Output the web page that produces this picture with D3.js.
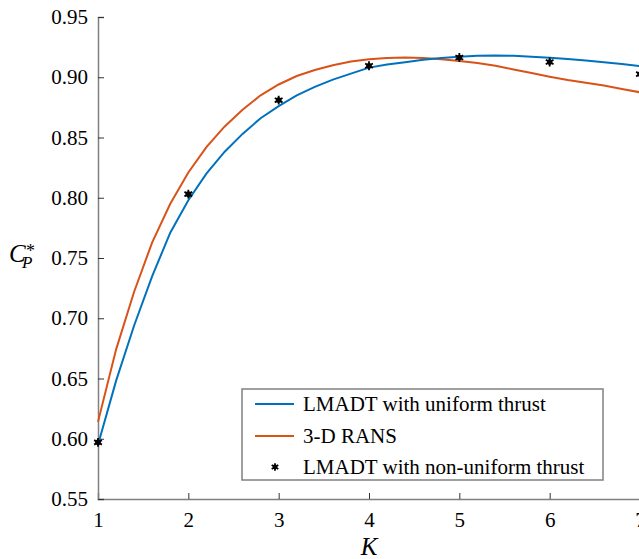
<!DOCTYPE html>
<html><head><meta charset="utf-8">
<script src="https://cdn.jsdelivr.net/npm/d3@7"></script>
</head><body style="margin:0">
<svg id="c" width="639" height="559" style="display:block;background:#fff"></svg>
<script>
const kLine = [1.0,1.2,1.4,1.6,1.8,2.0,2.2,2.4,2.6,2.8,3.0,3.2,3.4,3.6,3.8,4.0,4.2,4.4,4.6,4.8,5.0,5.2,5.4,5.6,5.8,6.0,6.2,6.4,6.6,6.8,7.0];
const uniform = [0.595,0.648,0.694,0.735,0.771,0.798,0.820,0.838,0.853,0.866,0.876,0.885,0.892,0.898,0.903,0.908,0.9105,0.9125,0.9145,0.916,0.917,0.9178,0.918,0.9178,0.917,0.9162,0.9152,0.914,0.9125,0.911,0.9093];
const rans = [0.614,0.674,0.722,0.763,0.795,0.821,0.842,0.859,0.873,0.885,0.894,0.901,0.906,0.910,0.913,0.915,0.916,0.9163,0.916,0.915,0.9135,0.9118,0.9095,0.9065,0.9035,0.9005,0.8978,0.8955,0.8932,0.8903,0.8875];
const kPts = [1,2,3,4,5,6,7];
const nonUniform = [0.597,0.803,0.881,0.9096,0.9164,0.9127,0.9026];
const xTicks = [1,2,3,4,5,6,7];
const yTicks = [0.55,0.60,0.65,0.70,0.75,0.80,0.85,0.90,0.95];
const seriesNames = ["LMADT with uniform thrust","3-D RANS","LMADT with non-uniform thrust"];
const colors = ["#0072BD","#D95319","#000"];

const FONT = `"Liberation Serif", monospace`;
const svg = d3.select("#c");
const x = d3.scaleLinear().domain([1,7]).range([98,640]);
const y = d3.scaleLinear().domain([0.55,0.95]).range([499,17]);

const ax = svg.append("g").attr("transform","translate(0,499)")
  .call(d3.axisBottom(x).tickValues(xTicks).tickSize(-6).tickPadding(12).tickFormat(d3.format("d")));
const ay = svg.append("g").attr("transform","translate(98,0)")
  .call(d3.axisLeft(y).tickValues(yTicks).tickSize(-6).tickPadding(10).tickFormat(d3.format(".2f")));
[ax,ay].forEach(g=>{
  g.attr("font-family",null).attr("font-size",null);
  g.select(".domain").attr("stroke","#808080").attr("stroke-width",1.5);
  g.selectAll(".tick line").attr("stroke","#333").attr("stroke-width",1);
  g.selectAll(".tick text").style("font-family",FONT).attr("font-size",21).attr("fill","#000");
});
ax.selectAll(".tick text").attr("dy","0.75em");

const line = d3.line().x((d,i)=>x(kLine[i])).y(d=>y(d));
svg.append("path").datum(rans).attr("d",line).attr("fill","none").attr("stroke",colors[1]).attr("stroke-width",2);
svg.append("path").datum(uniform).attr("d",line).attr("fill","none").attr("stroke",colors[0]).attr("stroke-width",2);

function marker(g,cx,cy,s){
  g.append("circle").attr("cx",cx).attr("cy",cy).attr("r",2.8*s).attr("fill","#000");
  g.append("path").attr("transform",`translate(${cx},${cy})`)
    .attr("d",d3.symbol(d3.symbolAsterisk,56*s*s)()).attr("stroke","#000").attr("stroke-width",1.8).attr("fill","none");
}
const mg = svg.append("g");
kPts.forEach((k,i)=>marker(mg,x(k),y(nonUniform[i]),1));

const lg = svg.append("g");
lg.append("rect").attr("x",242).attr("y",389).attr("width",361).attr("height",91)
  .attr("fill","#fff").attr("stroke","#808080").attr("stroke-width",1.5);
const rows = [404,436,467];
seriesNames.forEach((n,i)=>{
  if(i<2) lg.append("line").attr("x1",255).attr("x2",294).attr("y1",rows[i]).attr("y2",rows[i]).attr("stroke",colors[i]).attr("stroke-width",2);
  else marker(lg,275,rows[i],0.85);
  lg.append("text").attr("x",303).attr("y",rows[i]).attr("dy","0.33em").style("font-family",FONT).attr("font-size",21).text(n);
});

svg.append("text").attr("x",369).attr("y",555).attr("text-anchor","middle").style("font-family",FONT).style("font-style","italic").attr("font-size",25).text("K");
svg.append("text").attr("x",9).attr("y",262).style("font-family",FONT).style("font-style","italic").attr("font-size",25).text("C");
svg.append("text").attr("x",26).attr("y",257).style("font-family",FONT).attr("font-size",18).text("*");
svg.append("text").attr("x",22).attr("y",268).style("font-family",FONT).style("font-style","italic").attr("font-size",17).text("P");
</script>
</body></html>
